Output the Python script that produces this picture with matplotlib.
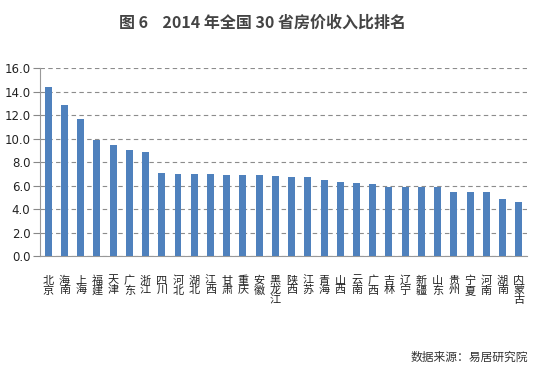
import matplotlib.pyplot as plt

plt.rcParams['font.family'] = ['Noto Sans CJK SC', 'DejaVu Sans']

provinces = ['北京', '海南', '上海', '福建', '天津', '广东', '浙江', '四川', '河北', '湖北',
             '江西', '甘肃', '重庆', '安徽', '黑龙江', '陕西', '江苏', '青海', '山西', '云南',
             '广西', '吉林', '辽宁', '新疆', '山东', '贵州', '宁夏', '河南', '湖南', '内蒙古']
ratios = [14.4, 12.9, 11.7, 9.9, 9.5, 9.0, 8.9, 7.1, 7.0, 7.0,
          7.0, 6.9, 6.9, 6.9, 6.8, 6.7, 6.7, 6.5, 6.3, 6.2,
          6.1, 5.9, 5.9, 5.9, 5.9, 5.5, 5.5, 5.5, 4.9, 4.6]
yticks = [0, 2, 4, 6, 8, 10, 12, 14, 16]

fig = plt.figure(figsize=(5.42, 3.75), dpi=100)
ax = fig.add_axes([0.074, 0.317, 0.898, 0.501])

x = range(len(provinces))
ax.bar(x, ratios, width=0.43, color='#4F81BD', zorder=3)

ax.set_xlim(-0.5, len(provinces) - 0.5)
ax.set_ylim(0, 16)
ax.set_yticks(yticks)
ax.set_yticklabels(['%.1f' % v for v in yticks], fontsize=8.5, family='DejaVu Sans',
                   color='#222222')
ax.yaxis.grid(True, linestyle=(0, (4, 3)), color='#8c8c8c', linewidth=0.8, zorder=0)

ax.set_xticks(list(x))
ax.set_xticklabels(['\n'.join(p) for p in provinces], fontsize=8, va='top',
                   linespacing=0.95, color='#222222')
ax.tick_params(axis='x', length=0, pad=14)
ax.tick_params(axis='y', length=5, color='#888888', pad=2)

for s in ['top', 'right']:
    ax.spines[s].set_visible(False)
ax.spines['left'].set_color('#999999')
ax.spines['bottom'].set_color('#999999')

fig.text(0.484, 0.94, '图 6    2014 年全国 30 省房价收入比排名', ha='center', va='center',
         fontsize=11.5, fontweight='bold', color='#444444')
fig.text(0.975, 0.048, '数据来源：易居研究院', ha='right', va='center',
         fontsize=8.5, color='#333333')

fig.savefig('out.png', dpi=100)
